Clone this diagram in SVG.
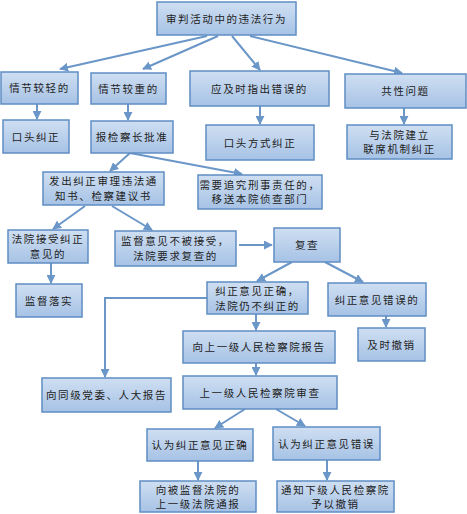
<svg xmlns="http://www.w3.org/2000/svg" width="467" height="514" viewBox="0 0 467 514">
<defs>
<linearGradient id="g" x1="0" y1="0" x2="0" y2="1">
<stop offset="0" stop-color="#cfdff2"/>
<stop offset="1" stop-color="#a6c2e5"/>
</linearGradient>
<marker id="ah" viewBox="0 0 10 10" refX="9" refY="5" markerWidth="9" markerHeight="9" markerUnits="userSpaceOnUse" orient="auto">
<path d="M0,0 L10,5 L0,10 z" fill="#6a96c8"/>
</marker>
<style>
rect{fill:url(#g);stroke:#5f8dc4;stroke-width:1.5}
text{font-family:"Noto Sans CJK SC","Noto Sans CJK JP",sans-serif;font-size:10.5px;fill:#222;text-anchor:middle;letter-spacing:1.6px}
.c line,.c polyline{stroke:#6a96c8;stroke-width:2;fill:none;marker-end:url(#ah)}
</style>
</defs>
<rect x="0" y="0" width="467" height="514" style="fill:#fff;stroke:none"/>
<g class="c" id="connectors">
<line x1="207" y1="36" x2="60" y2="69"/>
<line x1="218" y1="36" x2="143" y2="69"/>
<line x1="232" y1="36" x2="260" y2="70"/>
<line x1="250" y1="36" x2="402" y2="73"/>
<line x1="37" y1="104" x2="37" y2="119"/>
<line x1="128" y1="104" x2="128" y2="120"/>
<line x1="260" y1="106" x2="260" y2="124"/>
<line x1="404" y1="108" x2="404" y2="124"/>
<line x1="130" y1="153" x2="110" y2="171"/>
<line x1="130" y1="153" x2="242" y2="174"/>
<line x1="85" y1="206" x2="53" y2="229"/>
<line x1="112" y1="206" x2="152" y2="230"/>
<line x1="239" y1="245" x2="272" y2="245"/>
<line x1="51" y1="263" x2="51" y2="283"/>
<line x1="292" y1="262" x2="257" y2="281"/>
<line x1="325" y1="262" x2="363" y2="282"/>
<line x1="256" y1="314" x2="256" y2="330"/>
<line x1="386" y1="316" x2="386" y2="327"/>
<polyline points="207,298 105,298 105,377"/>
<line x1="256" y1="363" x2="256" y2="375"/>
<line x1="245" y1="409" x2="215" y2="428"/>
<line x1="276" y1="409" x2="305" y2="426"/>
<line x1="198" y1="461" x2="198" y2="480"/>
<line x1="327" y1="460" x2="327" y2="480"/>
</g>
<g id="n0"><rect x="157" y="2" width="139" height="33"/><text x="226.5" y="22.5">审判活动中的违法行为</text></g>
<g id="n1"><rect x="1" y="72" width="77" height="32"/><text x="39.5" y="92">情节较轻的</text></g>
<g id="n2"><rect x="91" y="73" width="75" height="31"/><text x="128.5" y="92.5">情节较重的</text></g>
<g id="n3"><rect x="190" y="71" width="139" height="35"/><text x="259.5" y="92.5">应及时指出错误的</text></g>
<g id="n4"><rect x="345" y="74" width="121" height="34"/><text x="405.5" y="95">共性问题</text></g>
<g id="n5"><rect x="3" y="120" width="66" height="33"/><text x="36" y="140.5">口头纠正</text></g>
<g id="n6"><rect x="91" y="121" width="82" height="32"/><text x="132" y="141">报检察长批准</text></g>
<g id="n7"><rect x="206" y="125" width="108" height="35"/><text x="260" y="146.5">口头方式纠正</text></g>
<g id="n8"><rect x="347" y="125" width="105" height="34"/><text x="399.5" y="138.5">与法院建立</text><text x="399.5" y="153">联席机制纠正</text></g>
<g id="n9"><rect x="43" y="172" width="121" height="33"/><text x="103.5" y="185">发出纠正审理违法通</text><text x="103.5" y="199.5">知书、检察建议书</text></g>
<g id="n10"><rect x="198" y="175" width="124" height="34"/><text x="260" y="188.5">需要追究刑事责任的，</text><text x="260" y="203">移送本院侦查部门</text></g>
<g id="n11"><rect x="8" y="230" width="80" height="33"/><text x="48" y="243">法院接受纠正</text><text x="48" y="257.5">意见的</text></g>
<g id="n12"><rect x="115" y="231" width="121" height="35"/><text x="175.5" y="245">监督意见不被接受，</text><text x="175.5" y="259.5">法院要求复查的</text></g>
<g id="n13"><rect x="274" y="228" width="66" height="34"/><text x="307" y="249">复查</text></g>
<g id="n14"><rect x="16" y="284" width="66" height="33"/><text x="49" y="304.5">监督落实</text></g>
<g id="n15"><rect x="207" y="282" width="101" height="32"/><text x="257.5" y="295">纠正意见正确，</text><text x="257.5" y="309.5">法院仍不纠正的</text></g>
<g id="n16"><rect x="328" y="283" width="98" height="33"/><text x="377" y="303.5">纠正意见错误的</text></g>
<g id="n17"><rect x="358" y="328" width="67" height="33"/><text x="391.5" y="348.5">及时撤销</text></g>
<g id="n18"><rect x="183" y="331" width="152" height="32"/><text x="259" y="351">向上一级人民检察院报告</text></g>
<g id="n19"><rect x="42" y="378" width="129" height="34"/><text x="106.5" y="399">向同级党委、人大报告</text></g>
<g id="n20"><rect x="183" y="376" width="154" height="33"/><text x="260" y="396.5">上一级人民检察院审查</text></g>
<g id="n21"><rect x="147" y="429" width="106" height="32"/><text x="200" y="449">认为纠正意见正确</text></g>
<g id="n22"><rect x="273" y="427" width="107" height="33"/><text x="326.5" y="447.5">认为纠正意见错误</text></g>
<g id="n23"><rect x="140" y="481" width="116" height="31"/><text x="198" y="493.5">向被监督法院的</text><text x="198" y="507.5">上一级法院通报</text></g>
<g id="n24"><rect x="277" y="481" width="117" height="31"/><text x="335.5" y="493.5">通知下级人民检察院</text><text x="335.5" y="507.5">予以撤销</text></g>
</svg>
